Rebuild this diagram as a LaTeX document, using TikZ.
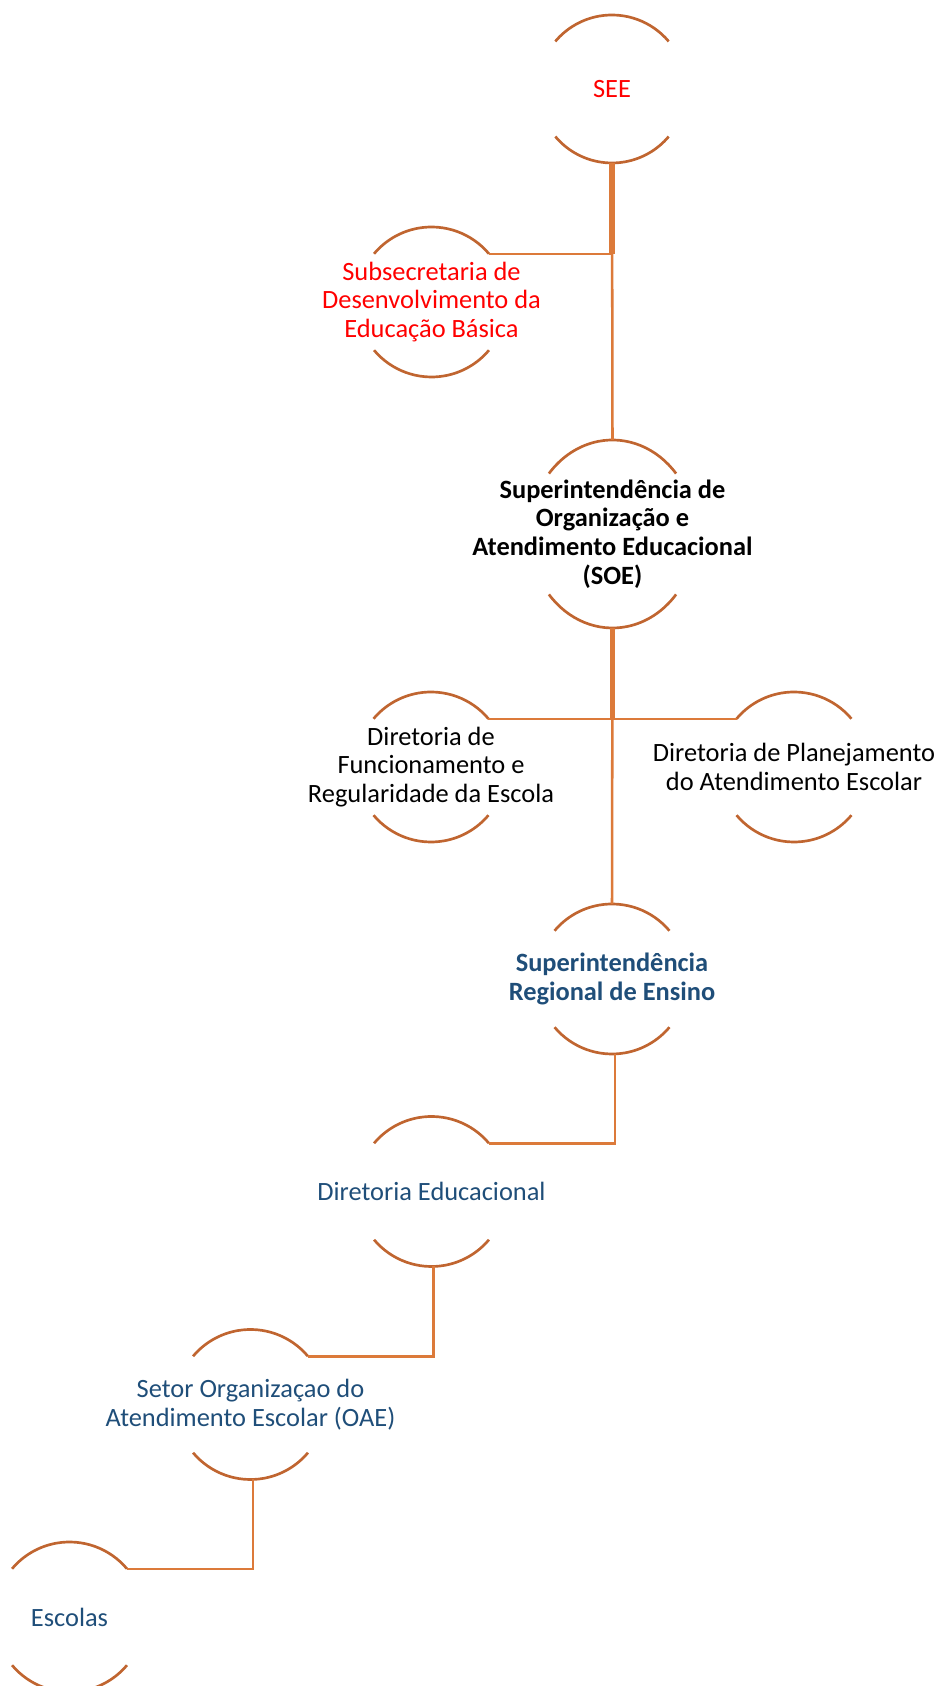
\documentclass[tikz,border=0pt]{standalone}
\usepackage{fontspec}
\setmainfont{Carlito}
\usetikzlibrary{calc}
\definecolor{arcbrown}{RGB}{192,101,48}
\definecolor{linkorange}{RGB}{220,122,58}
\definecolor{darkblue}{RGB}{31,78,121}
\tikzset{
  box/.style={align=center,inner sep=0pt,font=\fontsize{19.8}{21.4}\selectfont},
  ring/.style={draw=arcbrown,line width=2pt},
  link/.style={draw=linkorange,line width=1.9pt},
  trunk/.style={draw=linkorange,line width=4pt},
}
\newcommand{\halves}[3]{%
  \draw[ring] (#1.center) ++(40:#2 and #3) arc[start angle=40,end angle=140,x radius=#2,y radius=#3];
  \draw[ring] (#1.center) ++(220:#2 and #3) arc[start angle=220,end angle=320,x radius=#2,y radius=#3];
  \path (#1.center) ++(0,#3) coordinate (#1-n)
        (#1.center) ++(0,-#3) coordinate (#1-s)
        (#1.center) ++(40:#2 and #3) coordinate (#1-e)
        (#1.center) ++(140:#2 and #3) coordinate (#1-w);
}
\begin{document}
\begin{tikzpicture}[x=0.75pt,y=0.75pt]
  \clip (0,0) rectangle (942,1686);
  \node[box,text=red] (see) at (612,1597) {SEE};
  \node[box,text=red] (sub) at (431.5,1384) {Subsecretaria de\\Desenvolvimento da\\Educação Básica};
  \node[box,font=\fontsize{19.8}{21.4}\selectfont\bfseries] (soe) at (612.5,1152) {Superintendência de\\Organização e\\Atendimento Educacional\\(SOE)};
  \node[box] (dfr) at (431,919) {Diretoria de\\Funcionamento e\\Regularidade da Escola};
  \node[box] (dpa) at (794,919) {Diretoria de Planejamento\\do Atendimento Escolar};
  \node[box,text=darkblue,font=\fontsize{19.8}{21.4}\selectfont\bfseries] (sre) at (612,707) {Superintendência\\Regional de Ensino};
  \node[box,text=darkblue] (ded) at (431.5,494.5) {Diretoria Educacional};
  \node[box,text=darkblue] (oae) at (250.5,281.5) {Setor Organizaçao do\\Atendimento Escolar (OAE)};
  \node[box,text=darkblue] (esc) at (69.5,69) {Escolas};
  \halves{see}{74}{74}
  \halves{sub}{75}{75}
  \halves{soe}{83}{94}
  \halves{dfr}{75}{75}
  \halves{dpa}{75}{75}
  \halves{sre}{75}{75}
  \halves{ded}{75}{75}
  \halves{oae}{75}{75}
  \halves{esc}{75}{75}
  \draw[link] (see-s) -- (soe-n);
  \draw[link] (sub-e) -- (sub-e -| see-s);
  \draw[trunk] (see-s) -- (sub-e -| see-s);
  \draw[link] (soe-s) -- (sre-n);
  \draw[link] (dfr-e) -- (dpa-w);
  \draw[trunk] (soe-s) -- (soe-s |- dfr-e);
  \draw[link] ([xshift=2.25pt]sre-s) |- (ded-e);
  \draw[link] ([xshift=1.5pt]ded-s) |- (oae-e);
  \draw[link] ([xshift=2pt]oae-s) |- (esc-e);
\end{tikzpicture}
\end{document}
